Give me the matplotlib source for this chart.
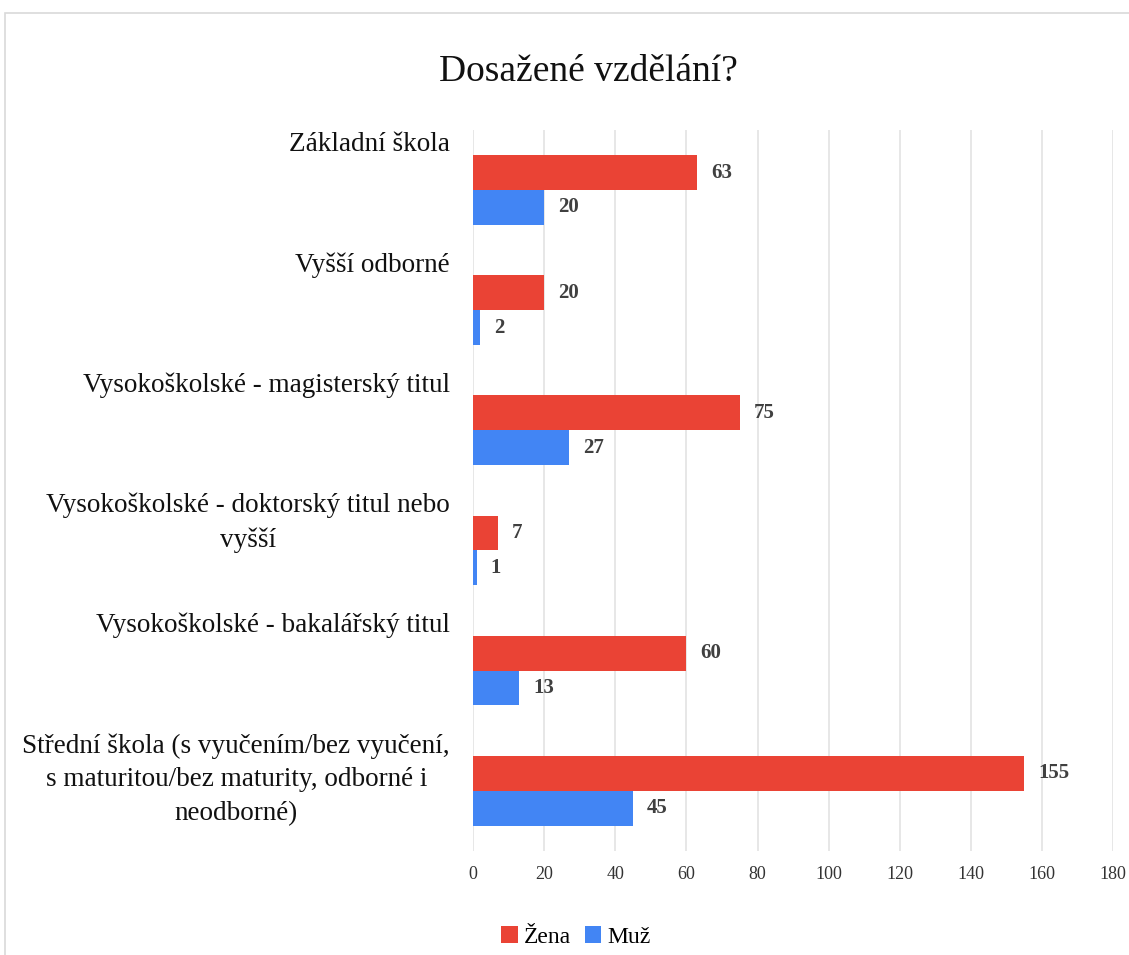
import numpy as np
import matplotlib.pyplot as plt
from matplotlib.patches import Rectangle

categories = [
    "Základní škola",
    "Vyšší odborné",
    "Vysokoškolské - magisterský titul",
    "Vysokoškolské - doktorský titul nebo\nvyšší",
    "Vysokoškolské - bakalářský titul",
    "Střední škola (s vyučením/bez vyučení,\ns maturitou/bez maturity, odborné i\nneodborné)",
]
zena = [63, 20, 75, 7, 60, 155]
muz = [20, 2, 27, 1, 13, 45]
xticks = [0, 20, 40, 60, 80, 100, 120, 140, 160, 180]

red = "#ea4335"
blue = "#4285f4"

plt.rcParams['font.family'] = ['Liberation Serif', 'DejaVu Serif']

fig = plt.figure(figsize=(11.29, 9.55), dpi=100)
ax = fig.add_axes([0.419, 0.109, 0.567, 0.755])

# light frame around the chart (top and left edges visible)
fig.patches.append(Rectangle((5 / 1129, -0.05), 1.1, 1.05 - 13 / 955, transform=fig.transFigure,
                             fill=False, edgecolor="#d9d9d9", linewidth=1.2))

y = np.arange(len(categories))
h = 0.29
b1 = ax.barh(y - h / 2, zena, height=h, color=red, label="Žena", zorder=3)
b2 = ax.barh(y + h / 2, muz, height=h, color=blue, label="Muž", zorder=3)

for bars in (b1, b2):
    for rect in bars:
        w = rect.get_width()
        ax.annotate(str(int(w)), (w, rect.get_y() + rect.get_height() / 2),
                    xytext=(10, 0), textcoords="offset points", va="center", ha="left",
                    fontsize=15, fontweight="bold", color="#404040")

ax.set_ylim(len(categories) - 0.5, -0.5)
ax.set_xlim(0, 180)
ax.set_xticks(xticks)
ax.set_xticklabels([str(t) for t in xticks], fontsize=13, color="#333333")
ax.set_yticks([])
ax.tick_params(axis="x", length=0, pad=11)
ax.grid(axis="x", color="#e3e3e3", linewidth=1.2, zorder=0)
for s in ax.spines.values():
    s.set_visible(False)

# category labels, top aligned in each band
for i, c in enumerate(categories):
    ax.annotate(c, (0, i - 0.48), xytext=(-23, 0), textcoords="offset pixels",
                ha="right", va="top", multialignment="center", fontsize=19.5, color="#111111",
                linespacing=1.45)

fig.text(0.521, 1 - 72 / 955, "Dosažené vzdělání?", ha="center", va="center", fontsize=27, color="#111111")

fig.legend(handles=[b1, b2], labels=["Žena", "Muž"], loc="center", bbox_to_anchor=(0.51, 1 - 937 / 955),
           ncol=2, frameon=False, fontsize=17, handlelength=0.7, handleheight=0.7,
           handletextpad=0.25, columnspacing=0.6)

plt.savefig("out.png", dpi=100)
